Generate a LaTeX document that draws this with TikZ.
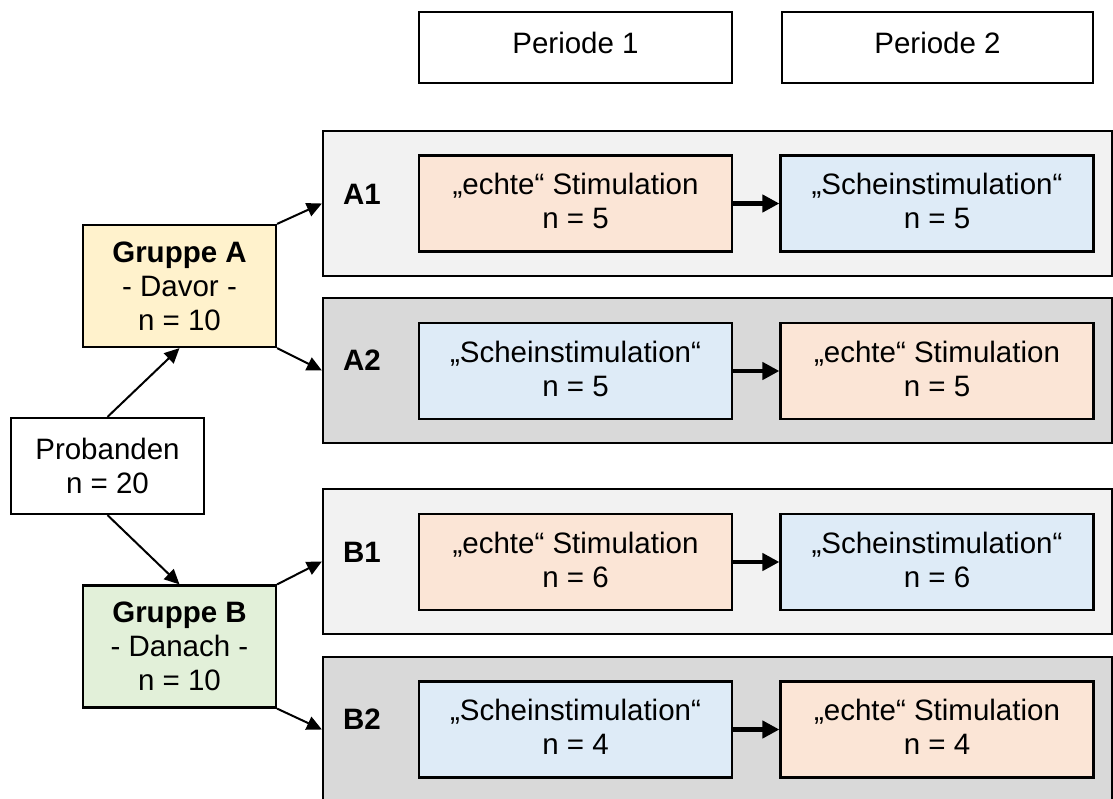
\documentclass[tikz,border=0pt]{standalone}
\usepackage{fontspec}
\setmainfont{Liberation Sans}
\usetikzlibrary{arrows.meta,positioning}
\definecolor{bandlight}{HTML}{F2F2F2}
\definecolor{banddark}{HTML}{D9D9D9}
\definecolor{echtfill}{HTML}{FBE5D6}
\definecolor{scheinfill}{HTML}{DEEBF7}
\definecolor{grpAfill}{HTML}{FFF2CC}
\definecolor{grpBfill}{HTML}{E2F0D9}

\begin{document}
\begin{tikzpicture}[x=1pt,y=-1pt,
  box/.style={draw,line width=2.2pt,inner sep=0pt,align=center,
    font=\fontsize{29.5}{34}\selectfont},
  band/.style={draw,line width=2.2pt,minimum width=789pt,minimum height=145pt,inner sep=0pt},
  stim/.style={box,minimum width=313pt,minimum height=96pt,text depth=5pt},
  grp/.style={box,minimum width=193pt,minimum height=122pt},
  lbl/.style={inner sep=0pt,font=\fontsize{29.5}{34}\selectfont\bfseries},
  thin/.style={line width=2pt,-{Triangle[length=15pt,width=14pt]}},
  thick/.style={line width=4.5pt,-{Triangle[length=17pt,width=17pt]}}]
\useasboundingbox (0,0) rectangle (1113,798);

\node (p1) at (575.5,47.5) [box,minimum width=313pt,minimum height=71pt,text depth=9pt] {Periode 1};
\node (p2) at (937.5,47.5) [box,minimum width=311pt,minimum height=71pt,text depth=9pt] {Periode 2};

\node (bA1) at (717.5,203.5) [band,fill=bandlight] {};
\node (bA2) at (717.5,370.5) [band,fill=banddark] {};
\node (bB1) at (717.5,561.5) [band,fill=bandlight] {};
\node (bB2) at (717.5,729.5) [band,fill=banddark] {};

\node (lA1) at (362,194) [lbl] {A1};
\node (lA2) at (362,360) [lbl] {A2};
\node (lB1) at (362,552) [lbl] {B1};
\node (lB2) at (362,719) [lbl] {B2};

\node (a1l) at (575.5,203.5) [stim,fill=echtfill] {„echte“ Stimulation\\n = 5};
\node (a1r) at (937,203.5) [stim,fill=scheinfill] {„Scheinstimulation“\\n = 5};
\node (a2l) at (575.5,371) [stim,fill=scheinfill] {„Scheinstimulation“\\n = 5};
\node (a2r) at (937,371) [stim,fill=echtfill] {„echte“ Stimulation\\n = 5};
\node (b1l) at (575.5,562) [stim,fill=echtfill] {„echte“ Stimulation\\n = 6};
\node (b1r) at (937,562) [stim,fill=scheinfill] {„Scheinstimulation“\\n = 6};
\node (b2l) at (575.5,729.5) [stim,fill=scheinfill] {„Scheinstimulation“\\n = 4};
\node (b2r) at (937,729.5) [stim,fill=echtfill] {„echte“ Stimulation\\n = 4};

\node (prob) at (107.5,466) [box,minimum width=193pt,minimum height=96pt,fill=white] {Probanden\\n = 20};
\node (gA) at (179.5,286) [grp,fill=grpAfill] {\textbf{Gruppe A}\\- Davor -\\n = 10};
\node (gB) at (179.5,646.5) [grp,fill=grpBfill] {\textbf{Gruppe B}\\- Danach -\\n = 10};

\draw[thin] (prob.north) -- (gA.south);
\draw[thin] (prob.south) -- (gB.north);
\draw[thin] (gA.north east) -- (bA1.west);
\draw[thin] (gA.south east) -- (bA2.west);
\draw[thin] (gB.north east) -- (bB1.west);
\draw[thin] (gB.south east) -- (bB2.west);

\draw[thick] (a1l) -- (a1r);
\draw[thick] (a2l) -- (a2r);
\draw[thick] (b1l) -- (b1r);
\draw[thick] (b2l) -- (b2r);

\end{tikzpicture}
\end{document}
